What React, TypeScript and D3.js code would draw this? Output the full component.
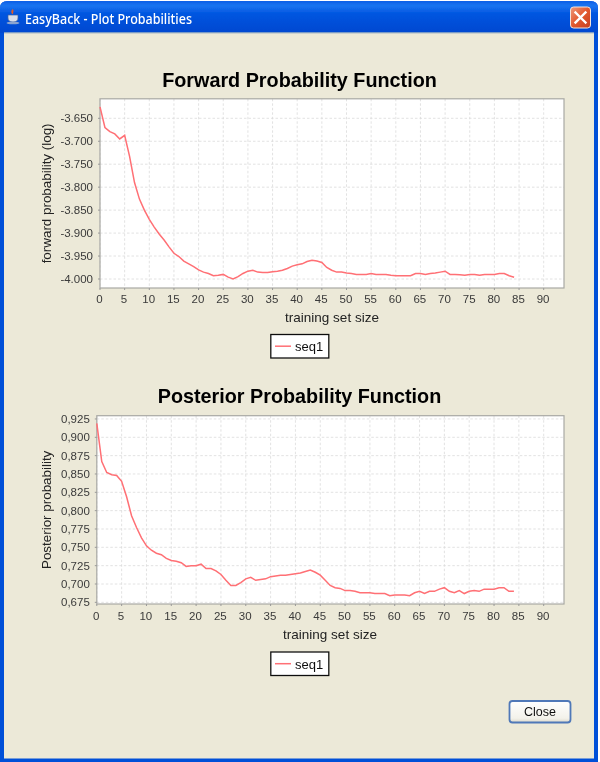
import React from "react";
import * as d3 from "d3";

const windowTitle = "EasyBack - Plot Probabilities";
const forwardTitle = "Forward Probability Function";
const posteriorTitle = "Posterior Probability Function";
const xLabel = "training set size";
const forwardYLabel = "forward probability (log)";
const posteriorYLabel = "Posterior probability";
const seriesName = "seq1";
const closeLabel = "Close";

const xTicks = [0, 5, 10, 15, 20, 25, 30, 35, 40, 45, 50, 55, 60, 65, 70, 75, 80, 85, 90];
const forwardTicks = [-3.65, -3.7, -3.75, -3.8, -3.85, -3.9, -3.95, -4.0];
const posteriorTicks = [0.925, 0.9, 0.875, 0.85, 0.825, 0.8, 0.775, 0.75, 0.725, 0.7, 0.675];

const forwardValues = [
  -3.625, -3.67, -3.679, -3.684, -3.695, -3.687, -3.733, -3.79, -3.826, -3.85,
  -3.87, -3.887, -3.902, -3.915, -3.93, -3.944, -3.951, -3.961, -3.967, -3.973,
  -3.98, -3.985, -3.988, -3.993, -3.992, -3.99, -3.996, -4.0, -3.995, -3.988,
  -3.983, -3.981, -3.985, -3.986, -3.986, -3.984, -3.983, -3.981, -3.977, -3.972,
  -3.969, -3.967, -3.962, -3.959, -3.961, -3.964, -3.975, -3.981, -3.985, -3.985,
  -3.987, -3.988, -3.99, -3.99, -3.99, -3.988, -3.99, -3.99, -3.99, -3.992,
  -3.993, -3.993, -3.993, -3.993, -3.988, -3.988, -3.99, -3.988, -3.987, -3.985,
  -3.983, -3.99, -3.99, -3.991, -3.992, -3.99, -3.99, -3.992, -3.99, -3.99,
  -3.99, -3.988, -3.988, -3.993, -3.996,
];
const posteriorValues = [
  0.919, 0.867, 0.852, 0.849, 0.848, 0.84, 0.819, 0.793, 0.777, 0.763,
  0.752, 0.746, 0.742, 0.74, 0.735, 0.732, 0.731, 0.729, 0.724, 0.725,
  0.725, 0.727, 0.721, 0.721, 0.718, 0.713, 0.705, 0.698, 0.698, 0.702,
  0.707, 0.709, 0.705, 0.706, 0.707, 0.71, 0.711, 0.712, 0.712, 0.713,
  0.714, 0.715, 0.717, 0.719, 0.716, 0.712, 0.705, 0.698, 0.695, 0.694,
  0.691, 0.691, 0.69, 0.688, 0.688, 0.688, 0.687, 0.687, 0.687, 0.684,
  0.685, 0.685, 0.685, 0.684, 0.688, 0.69, 0.687, 0.69, 0.69, 0.693,
  0.695, 0.69, 0.688, 0.691, 0.687, 0.69, 0.691, 0.69, 0.693, 0.693,
  0.693, 0.695, 0.695, 0.69, 0.69,
];

const FONT = "'Liberation Sans', Arial, sans-serif";
const TICK = "#3a3a3a";
const LINE = "#ff6f74";

type PanelProps = {
  title: string; titleX: number; titleY: number; yLabel: string; yLabelX: number; values: number[];
  yTicks: number[]; fmt: (v: number) => string;
  left: number; right: number; top: number; bottom: number;
  xAt0: number; xAt90: number; yHiVal: number; yHiPx: number; yLoVal: number; yLoPx: number;
  xLabelX: number; xLabelY: number; legendY: number; xTickDy: number;
};

function Panel(p: PanelProps) {
  const x = d3.scaleLinear().domain([0, 90]).range([p.xAt0, p.xAt90]);
  const y = d3.scaleLinear().domain([p.yLoVal, p.yHiVal]).range([p.yLoPx, p.yHiPx]);
  const path = d3.line<number>().x((_, i) => x(i)).y((v) => y(v))(p.values) ?? "";
  const yMid = (p.top + p.bottom) / 2;
  return (
    <g fontFamily={FONT}>
      <text x={p.titleX} y={p.titleY} textAnchor="middle" fontSize={19.8} fontWeight="bold" fill="#000">{p.title}</text>
      <rect x={p.left} y={p.top} width={p.right - p.left} height={p.bottom - p.top} fill="#fff" />
      {xTicks.map((t) => (
        <line key={t} x1={x(t)} x2={x(t)} y1={p.top} y2={p.bottom} stroke="#dadada" strokeWidth={0.8} strokeDasharray="2.5 2" />
      ))}
      {p.yTicks.map((t) => (
        <line key={t} x1={p.left} x2={p.right} y1={y(t)} y2={y(t)} stroke="#dadada" strokeWidth={0.8} strokeDasharray="2.5 2" />
      ))}
      <rect x={p.left} y={p.top} width={p.right - p.left} height={p.bottom - p.top} fill="none" stroke="#a8a8a4" strokeWidth={1.2} />
      {xTicks.map((t) => (
        <g key={t}>
          <line x1={x(t)} x2={x(t)} y1={p.bottom} y2={p.bottom + 2} stroke="#999" />
          <text x={x(t) - 0.6} y={p.bottom + p.xTickDy} textAnchor="middle" fontSize={11.5} fill={TICK}>{t}</text>
        </g>
      ))}
      {p.yTicks.map((t) => (
        <g key={t}>
          <line x1={p.left - 2} x2={p.left} y1={y(t)} y2={y(t)} stroke="#999" />
          <text x={p.left - 7} y={y(t) + 4} textAnchor="end" fontSize={11.5} fill={TICK}>{p.fmt(t)}</text>
        </g>
      ))}
      <path d={path} fill="none" stroke={LINE} strokeWidth={1.5} />
      <text x={p.xLabelX} y={p.xLabelY} textAnchor="middle" fontSize={13.5} fill="#222">{xLabel}</text>
      <text transform={`translate(${p.yLabelX},${yMid}) rotate(-90)`} textAnchor="middle" fontSize={13.4} fill="#222">{p.yLabel}</text>
      <rect x={270.8} y={p.legendY} width={58} height={23.5} fill="#fff" stroke="#111" strokeWidth={1.3} />
      <line x1={275} x2={291} y1={p.legendY + 11.7} y2={p.legendY + 11.7} stroke={LINE} strokeWidth={1.5} />
      <text x={295} y={p.legendY + 16.5} fontSize={13} fill="#111">{seriesName}</text>
    </g>
  );
}

const fmtDot = (v: number) => v.toFixed(3);
const fmtComma = (v: number) => v.toFixed(3).replace(".", ",");

export default function App() {
  return (
    <svg width={600} height={762} viewBox="0 0 600 762" style={{ position: "absolute", left: 0, top: 0 }}>
      <defs>
        <linearGradient id="bar" x1="0" y1="0" x2="0" y2="1">
          <stop offset="0" stopColor="#0a5fe6" />
          <stop offset="0.15" stopColor="#1a74f0" />
          <stop offset="0.4" stopColor="#0055e0" />
          <stop offset="1" stopColor="#0048d0" />
        </linearGradient>
        <linearGradient id="closeG" x1="0" y1="0" x2="1" y2="1">
          <stop offset="0" stopColor="#ee9a7c" />
          <stop offset="0.5" stopColor="#e2582e" />
          <stop offset="1" stopColor="#c5401f" />
        </linearGradient>
        <linearGradient id="btn" x1="0" y1="0" x2="0" y2="1">
          <stop offset="0" stopColor="#ffffff" />
          <stop offset="0.8" stopColor="#f3f2ea" />
          <stop offset="1" stopColor="#dcd8ca" />
        </linearGradient>
        <filter id="soft" x="-2%" y="-2%" width="104%" height="104%">
          <feGaussianBlur stdDeviation="0.35" />
        </filter>
      </defs>
      <rect width={600} height={762} fill="#fff" />
      <g filter="url(#soft)">
        <path d="M0 8 Q0 1 8 1 H590 Q598 1 598 8 V762 H0 Z" fill="#0450d8" />
        <path d="M0 8 Q0 1 8 1 H590 Q598 1 598 8 V33 H0 Z" fill="url(#bar)" />
        <rect x={4} y={32.5} width={590} height={726} fill="#ECE9D8" />
        <rect x={4} y={32.5} width={590} height={0.8} fill="#7f9db9" />

        <g>
          <path d="M8 15 h10 v3 q0 4 -5 4 q-5 0 -5 -4 Z" fill="#d9dfea" stroke="#44629e" strokeWidth={0.7} />
          <path d="M12 14 q-2 -3 1 -5 q1 2 0 5 Z" fill="#e05a28" />
          <ellipse cx={13} cy={23} rx={6.5} ry={1.3} fill="#8ba4d0" />
        </g>
        <text x={25} y={24} fontFamily="'Noto Sans', sans-serif" fontSize={13.5} fontWeight={500} fill="#fff" textLength={167} lengthAdjust="spacingAndGlyphs">{windowTitle}</text>
        <rect x={570.5} y={7} width={20} height={21} rx={3} fill="url(#closeG)" stroke="#f3e4dc" strokeWidth={1} />
        <path d="M575.5 12.5 L585.5 22.5 M585.5 12.5 L575.5 22.5" stroke="#fff" strokeWidth={2.4} strokeLinecap="square" />

        <Panel title={forwardTitle} titleX={299.5} titleY={86.5} yLabel={forwardYLabel} yLabelX={51} values={forwardValues} yTicks={forwardTicks} fmt={fmtDot}
          left={100} right={564} top={98.8} bottom={288} xTickDy={15}
          xAt0={100} xAt90={543.7} yHiVal={-3.65} yHiPx={118.3} yLoVal={-4.0} yLoPx={279}
          xLabelX={332} xLabelY={321.5} legendY={334.5} />
        <Panel title={posteriorTitle} titleX={299.5} titleY={402.5} yLabel={posteriorYLabel} yLabelX={51} values={posteriorValues} yTicks={posteriorTicks} fmt={fmtComma}
          left={96.8} right={564} top={415.7} bottom={604} xTickDy={16}
          xAt0={96.8} xAt90={543.7} yHiVal={0.9} yHiPx={437.3} yLoVal={0.7} yLoPx={584}
          xLabelX={330} xLabelY={639} legendY={652} />

        <rect x={509.5} y={701} width={61} height={21.5} rx={3} fill="url(#btn)" stroke="#4f78b8" strokeWidth={1.8} />
        <text x={540} y={716} textAnchor="middle" fontFamily={FONT} fontSize={12.5} fill="#111">{closeLabel}</text>
      </g>
    </svg>
  );
}
